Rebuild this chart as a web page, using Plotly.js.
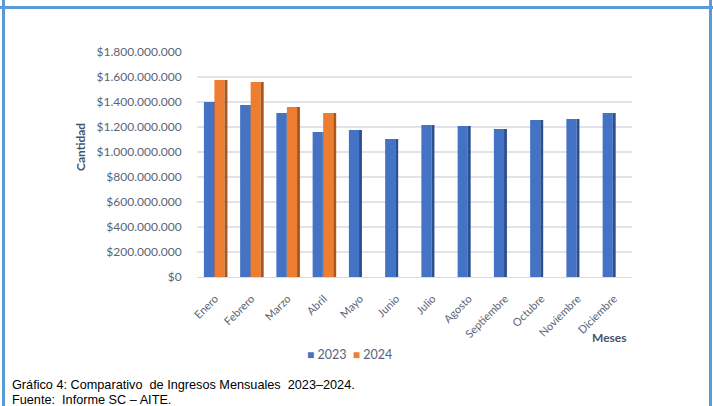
<!DOCTYPE html>
<html>
<head>
<meta charset="utf-8">
<script src="https://cdn.plot.ly/plotly-3.0.1.min.js"></script>
<style>
  html,body{margin:0;padding:0;background:#fff;}
  #wrap{position:relative;width:713px;height:406px;overflow:hidden;}
  #chart{position:absolute;left:0;top:0;width:713px;height:406px;}
  .ln{position:absolute;background:#5B9BD5;}
</style>
</head>
<body>
<div id="wrap">
  <div id="chart"></div>
  <div class="ln" style="left:0;top:6px;width:713px;height:3px;"></div>
  <div class="ln" style="left:2px;top:0;width:3px;height:406px;"></div>
  <div class="ln" style="left:709px;top:0;width:3px;height:406px;"></div>
</div>
<script>
const months = ["Enero","Febrero","Marzo","Abril","Mayo","Junio","Julio","Agosto","Septiembre","Octubre","Noviembre","Diciembre"];
const months2024 = ["Enero","Febrero","Marzo","Abril"];
const ingresos2023 = [1400000000,1376000000,1312000000,1160000000,1176000000,1104000000,1216000000,1208000000,1184000000,1256000000,1264000000,1312000000];
const ingresos2024 = [1576000000,1560000000,1360000000,1312000000];
const seriesNames = ["2023","2024"];
const yTicks = [0,200000000,400000000,600000000,800000000,1000000000,1200000000,1400000000,1600000000,1800000000];

// plot-area pixel frame (layout only)
const L = 197, R = 632, T = 52, B = 277, W = 713, H = 406;
const px = x => (x - L) / (R - L);
const py = y => (B - y) / (B - T);

const blue = "#4472C4", blueSide = "#2C4F8F";
const orange = "#ED7D31", orangeSide = "#A9561F";

const traces = [
  {type:"bar", name:seriesNames[0], x:months, y:ingresos2023, offset:-0.31, width:0.28,
   marker:{color:blue, line:{width:0}}, hoverinfo:"skip"},
  {type:"bar", name:seriesNames[0]+"s", x:months, y:ingresos2023, offset:-0.03, width:0.08,
   marker:{color:blueSide, line:{width:0}}, hoverinfo:"skip"},
  {type:"bar", name:seriesNames[1], x:months2024, y:ingresos2024, offset:-0.02, width:0.28,
   marker:{color:orange, line:{width:0}}, hoverinfo:"skip"},
  {type:"bar", name:seriesNames[1]+"s", x:months2024, y:ingresos2024, offset:0.26, width:0.08,
   marker:{color:orangeSide, line:{width:0}}, hoverinfo:"skip"}
];

const tickColor = "#5a6478";
const legendText =
  `<span style="color:${blue};font-size:12px">■</span> ${seriesNames[0]}  ` +
  `<span style="color:${orange};font-size:12px">■</span> ${seriesNames[1]}`;

const layout = {
  width: W, height: H,
  margin:{l:L, r:W-R, t:T, b:H-B, pad:0},
  paper_bgcolor:"rgba(0,0,0,0)", plot_bgcolor:"rgba(0,0,0,0)",
  separators:",.",
  barmode:"overlay",
  showlegend:false,
  xaxis:{type:"category", categoryorder:"array", categoryarray:months,
         range:[-0.5, 11.5], showgrid:false, zeroline:false, showline:false,
         ticks:"outside", ticklen:10, tickcolor:"rgba(0,0,0,0)", tickangle:-45,
         tickfont:{family:"Lato, sans-serif", size:11, color:tickColor}},
  yaxis:{range:[0,1800000000], tickvals:yTicks, tickformat:"$,.0f",
         showgrid:true, gridcolor:"#E2E3EA", gridwidth:1.5, zeroline:true, zerolinecolor:"#D9DAE0",
         showline:false, ticks:"outside", ticklen:12, tickcolor:"rgba(0,0,0,0)",
         tickfont:{family:"Lato, sans-serif", size:12, color:tickColor}},
  annotations:[
    {text:"<b>Cantidad</b>", xref:"paper", yref:"paper", x:px(80), y:py(147), textangle:-90,
     showarrow:false, xanchor:"center", yanchor:"middle",
     font:{family:"Lato, sans-serif", size:12, color:"#44546A"}},
    {text:"<b>Meses</b>", xref:"paper", yref:"paper", x:px(609), y:py(337),
     showarrow:false, xanchor:"center", yanchor:"middle",
     font:{family:"Lato, sans-serif", size:12, color:"#44546A"}},
    {text:legendText, xref:"paper", yref:"paper", x:px(349), y:py(354),
     showarrow:false, xanchor:"center", yanchor:"middle",
     font:{family:"Lato, sans-serif", size:12.5, color:tickColor}},
    {text:"Gráfico 4: Comparativo \u00a0de Ingresos Mensuales \u00a02023–2024.", xref:"paper", yref:"paper",
     x:px(10), y:py(385), showarrow:false, xanchor:"left", yanchor:"middle",
     font:{family:"Liberation Sans, Arial, sans-serif", size:12.7, color:"#000"}},
    {text:"Fuente: \u00a0Informe SC – AITE.", xref:"paper", yref:"paper",
     x:px(10), y:py(400), showarrow:false, xanchor:"left", yanchor:"middle",
     font:{family:"Liberation Sans, Arial, sans-serif", size:12.7, color:"#000"}}
  ]
};

Plotly.newPlot("chart", traces, layout, {displayModeBar:false, staticPlot:true});
</script>
</body>
</html>
